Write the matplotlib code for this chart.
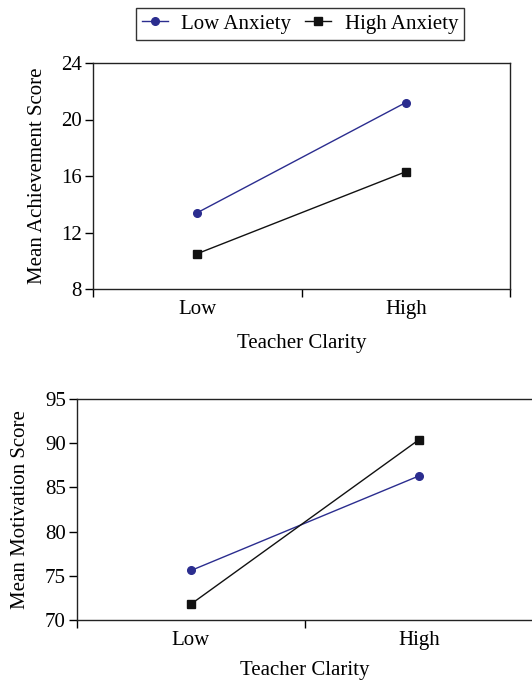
import matplotlib
matplotlib.use("Agg")
import matplotlib.pyplot as plt
from matplotlib.ticker import FixedLocator

plt.rcParams['font.family'] = ['Liberation Serif', 'DejaVu Serif']
plt.rcParams['font.size'] = 15

# data
categorias = ["Low", "High"]
series = ["Low Anxiety", "High Anxiety"]
achievement_low_anx = [13.4, 21.2]
achievement_high_anx = [10.5, 16.3]
motivation_low_anx = [75.6, 86.3]
motivation_high_anx = [71.8, 90.4]
ach_ticks = [8, 12, 16, 20, 24]
mot_ticks = [70, 75, 80, 85, 90, 95]

azul = "#2b2d8f"
preto = "#111111"

fig = plt.figure(figsize=(5.32, 6.82), dpi=100)

ax1 = fig.add_axes([93 / 532, 1 - 289 / 682, 417 / 532, 226 / 682])
ax2 = fig.add_axes([77 / 532, 1 - 620 / 682, 456 / 532, 221 / 682])

pos = [0.5, 1.5]


def desenha(ax, low, high, ticks, ylabel, lpad, xpad):
    l1, = ax.plot(pos, low, color=azul, marker="o", markersize=5.5, lw=1, label=series[0])
    l2, = ax.plot(pos, high, color=preto, marker="s", markersize=6, lw=1, label=series[1])
    ax.set_xlim(0, 2)
    ax.set_ylim(ticks[0], ticks[-1])
    ax.set_yticks(ticks)
    ax.xaxis.set_major_locator(FixedLocator([0, 1, 2]))
    ax.xaxis.set_minor_locator(FixedLocator(pos))
    ax.set_xticklabels(["", "", ""])
    ax.set_xticklabels(categorias, minor=True)
    ax.tick_params(axis="x", which="minor", length=0, pad=8)
    ax.tick_params(axis="x", which="major", length=6, width=1, direction="out")
    ax.tick_params(axis="y", length=6, width=1, direction="out", pad=2)
    ax.set_xlabel("Teacher Clarity", labelpad=xpad)
    ax.set_ylabel(ylabel, labelpad=lpad)
    for s in ax.spines.values():
        s.set_linewidth(1)
        s.set_color("#222222")
    return l1, l2


linhas = desenha(ax1, achievement_low_anx, achievement_high_anx, ach_ticks, "Mean Achievement Score", 10, 11)
desenha(ax2, motivation_low_anx, motivation_high_anx, mot_ticks, "Mean Motivation Score", 11, 8)

leg = fig.legend(linhas, series, loc="center", bbox_to_anchor=(300 / 532, 1 - 24 / 682),
                 ncol=2, frameon=True, fancybox=False, edgecolor="black",
                 handlelength=1.25, columnspacing=0.65, handletextpad=0.65,
                 borderpad=0.3, fontsize=15)
leg.get_frame().set_linewidth(1)

fig.savefig("out.png", dpi=100)
